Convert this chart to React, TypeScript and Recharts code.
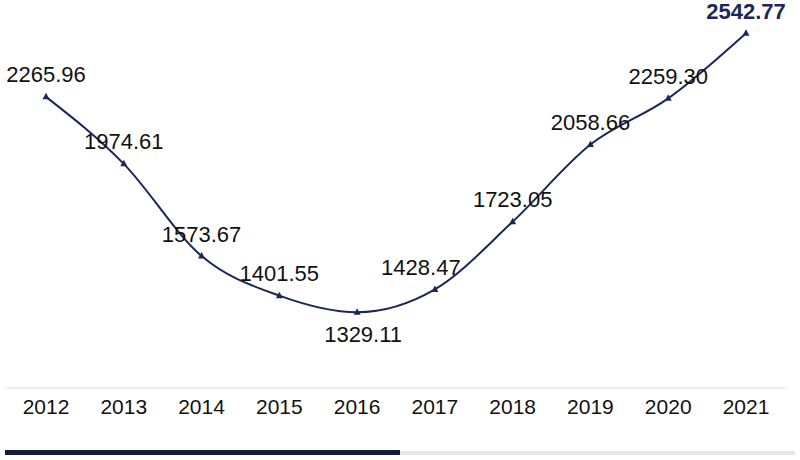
import { LineChart, Line, XAxis, YAxis, LabelList } from "recharts";

const years = ["2012", "2013", "2014", "2015", "2016", "2017", "2018", "2019", "2020", "2021"];
const values = [2265.96, 1974.61, 1573.67, 1401.55, 1329.11, 1428.47, 1723.05, 2058.66, 2259.3, 2542.77];

const data = years.map((year, i) => ({ year, value: values[i] }));

const NAVY = "#1c2757";

function Triangle(props: any) {
  const { cx, cy } = props;
  if (cx == null || cy == null) return null;
  return <path d={`M${cx},${cy - 4} L${cx + 3.5},${cy + 2.5} L${cx - 3.5},${cy + 2.5} Z`} fill={NAVY} />;
}

// small horizontal nudges so labels sit like the original
const labelShift: Record<number, number> = { 4: 6, 5: -14 };

function ValueLabel(props: any) {
  const { x, y, value, index } = props;
  const last = index === values.length - 1;
  const below = index === 4;
  return (
    <text
      x={x + (labelShift[index] || 0)}
      y={below ? y + 22 : y - 22}
      textAnchor="middle"
      dominantBaseline="central"
      fontSize={22}
      fontFamily="Liberation Sans, Arial, sans-serif"
      fontWeight={last ? 700 : 400}
      fill={last ? NAVY : "#111"}
    >
      {Number(value).toFixed(2)}
    </text>
  );
}

export default function App() {
  return (
    <div style={{ position: "absolute", left: 0, top: 0, width: 800, height: 460, background: "#fff" }}>
      <LineChart width={800} height={460} data={data} margin={{ top: 20, right: 15, left: 7, bottom: 42 }}>
        <XAxis
          dataKey="year"
          interval={0}
          padding={{ left: 39, right: 39 }}
          axisLine={{ stroke: "#dcdcdc", strokeWidth: 1 }}
          tickLine={false}
          tickSize={0}
          tickMargin={11}
          height={30}
          tick={{ fill: "#111", fontSize: 21, fontFamily: "Liberation Sans, Arial, sans-serif" }}
        />
        <YAxis hide domain={[1000, 2600]} />
        <Line
          type="monotone"
          dataKey="value"
          stroke={NAVY}
          strokeWidth={2}
          dot={<Triangle />}
          activeDot={false}
          isAnimationActive={false}
        >
          <LabelList dataKey="value" content={<ValueLabel />} />
        </Line>
      </LineChart>
      <div style={{ position: "absolute", left: 5, top: 450, width: 395, height: 5, background: "#141a3c" }} />
      <div style={{ position: "absolute", left: 400, top: 451, width: 395, height: 4, background: "#e6e6e6" }} />
    </div>
  );
}
